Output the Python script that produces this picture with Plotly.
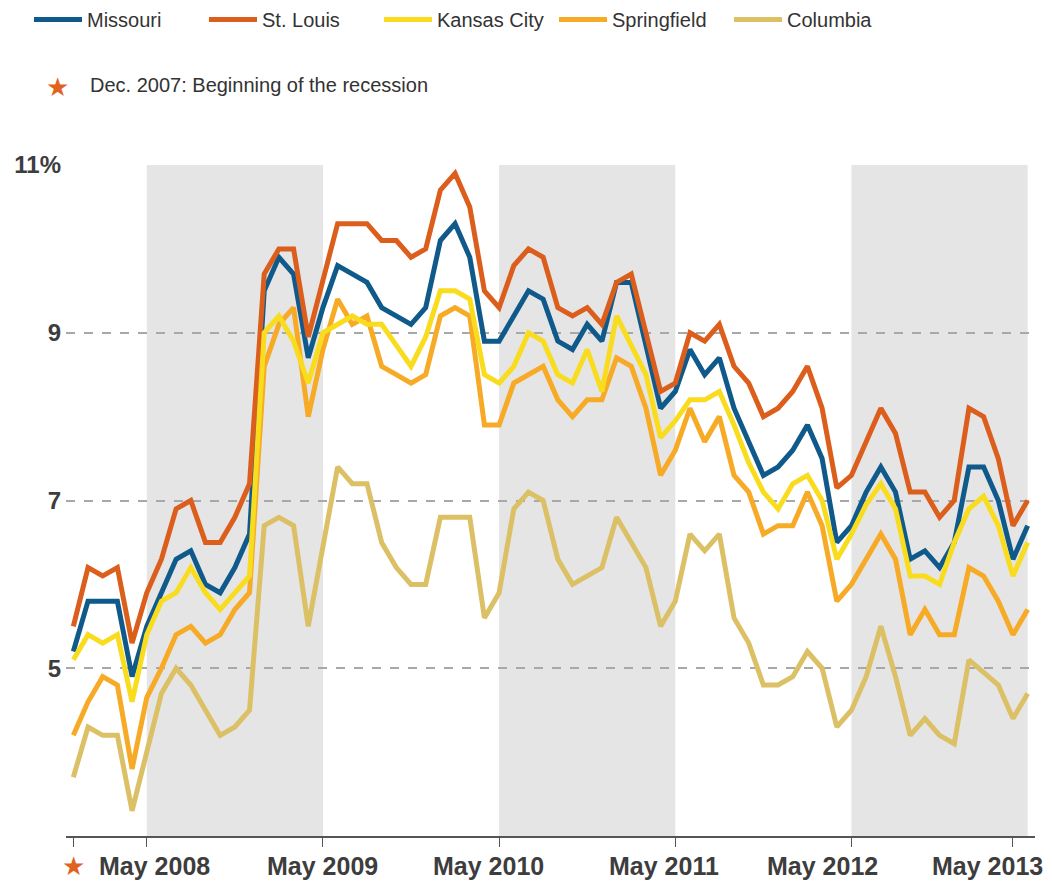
import plotly.graph_objects as go

# month index 0 = Dec 2007 ... 65 = May 2013
months = list(range(66))

missouri = [5.2, 5.8, 5.8, 5.8, 4.9, 5.5, 5.9, 6.3, 6.4, 6.0, 5.9, 6.2, 6.6, 9.5, 9.9, 9.7, 8.7, 9.3,
            9.8, 9.7, 9.6, 9.3, 9.2, 9.1, 9.3, 10.1, 10.3, 9.9, 8.9, 8.9, 9.2, 9.5, 9.4, 8.9, 8.8, 9.1,
            8.9, 9.6, 9.6, 8.85, 8.1, 8.3, 8.8, 8.5, 8.7, 8.1, 7.7, 7.3, 7.4, 7.6, 7.9, 7.5, 6.5, 6.7,
            7.1, 7.4, 7.1, 6.3, 6.4, 6.2, 6.5, 7.4, 7.4, 7.0, 6.3, 6.7]
st_louis = [5.5, 6.2, 6.1, 6.2, 5.3, 5.9, 6.3, 6.9, 7.0, 6.5, 6.5, 6.8, 7.2, 9.7, 10.0, 10.0, 8.95, 9.6,
            10.3, 10.3, 10.3, 10.1, 10.1, 9.9, 10.0, 10.7, 10.9, 10.5, 9.5, 9.3, 9.8, 10.0, 9.9, 9.3,
            9.2, 9.3, 9.1, 9.6, 9.7, 9.0, 8.3, 8.4, 9.0, 8.9, 9.1, 8.6, 8.4, 8.0, 8.1, 8.3, 8.6, 8.1,
            7.15, 7.3, 7.7, 8.1, 7.8, 7.1, 7.1, 6.8, 7.0, 8.1, 8.0, 7.5, 6.7, 7.0]
kansas_city = [5.1, 5.4, 5.3, 5.4, 4.6, 5.4, 5.8, 5.9, 6.2, 5.9, 5.7, 5.9, 6.1, 9.0, 9.2, 8.9, 8.4, 9.0,
               9.1, 9.2, 9.1, 9.1, 8.85, 8.6, 8.95, 9.5, 9.5, 9.4, 8.5, 8.4, 8.6, 9.0, 8.9, 8.5, 8.4,
               8.8, 8.3, 9.2, 8.85, 8.5, 7.75, 7.95, 8.2, 8.2, 8.3, 7.9, 7.45, 7.1, 6.9, 7.2, 7.3, 7.0,
               6.3, 6.6, 6.95, 7.2, 6.9, 6.1, 6.1, 6.0, 6.5, 6.9, 7.05, 6.7, 6.1, 6.5]
springfield = [4.2, 4.6, 4.9, 4.8, 3.8, 4.65, 5.0, 5.4, 5.5, 5.3, 5.4, 5.7, 5.9, 8.6, 9.1, 9.3, 8.0, 8.8,
               9.4, 9.1, 9.2, 8.6, 8.5, 8.4, 8.5, 9.2, 9.3, 9.2, 7.9, 7.9, 8.4, 8.5, 8.6, 8.2, 8.0, 8.2,
               8.2, 8.7, 8.6, 8.1, 7.3, 7.6, 8.1, 7.7, 8.0, 7.3, 7.1, 6.6, 6.7, 6.7, 7.1, 6.7, 5.8, 6.0,
               6.3, 6.6, 6.3, 5.4, 5.7, 5.4, 5.4, 6.2, 6.1, 5.8, 5.4, 5.7]
columbia = [3.7, 4.3, 4.2, 4.2, 3.3, 4.0, 4.7, 5.0, 4.8, 4.5, 4.2, 4.3, 4.5, 6.7, 6.8, 6.7, 5.5, 6.45,
            7.4, 7.2, 7.2, 6.5, 6.2, 6.0, 6.0, 6.8, 6.8, 6.8, 5.6, 5.9, 6.9, 7.1, 7.0, 6.3, 6.0, 6.1,
            6.2, 6.8, 6.5, 6.2, 5.5, 5.8, 6.6, 6.4, 6.6, 5.6, 5.3, 4.8, 4.8, 4.9, 5.2, 5.0, 4.3, 4.5,
            4.9, 5.5, 4.9, 4.2, 4.4, 4.2, 4.1, 5.1, 4.95, 4.8, 4.4, 4.7]

series_names = ["Missouri", "St. Louis", "Kansas City", "Springfield", "Columbia"]
series_values = [missouri, st_louis, kansas_city, springfield, columbia]
series_colors = ["#0f5a8a", "#dc5e1c", "#f9dc1e", "#f6aa25", "#dcc066"]
draw_order = ["Columbia", "Springfield", "Missouri", "St. Louis", "Kansas City"]

# shaded bands (month indices: May-May)
bands = [(5, 17), (29, 41), (53, 65)]
tick_marks = [0, 5, 17, 29, 41, 53, 64]
x_labels = ["May 2008", "May 2009", "May 2010", "May 2011", "May 2012", "May 2013"]
x_label_pos = [5.55, 16.95, 28.3, 40.2, 51.0, 62.25]
y_ticks = [5, 7, 9, 11]
y_ticktext = ["5", "7", "9", "11%"]

FONT = "Liberation Sans, Arial, Helvetica, sans-serif"

# page body has an 8px margin; figure sized to fit the window
OFF = 8
W, H = 1052 - OFF, 888 - OFF
L, R, T, B = 66 - OFF, 17, 165 - OFF, 52
pw, ph = W - L - R, H - T - B


def px_x(p):
    return (p - OFF - L) / pw


def px_y(p):
    return (H - B - (p - OFF)) / ph


fig = go.Figure()
for name in draw_order:
    i = series_names.index(name)
    fig.add_trace(go.Scatter(
        x=months, y=series_values[i], mode="lines", name=name,
        line=dict(color=series_colors[i], width=5),
        legendrank=i + 1, hoverinfo="skip",
    ))

for a, b in bands:
    fig.add_shape(type="rect", xref="x", yref="paper", x0=a, x1=b, y0=0, y1=1,
                  fillcolor="#e5e5e5", line=dict(width=0), layer="below")

annotations = []
for lab, xp in zip(x_labels, x_label_pos):
    annotations.append(dict(x=xp, y=px_y(866), xref="x", yref="paper", text="<b>" + lab + "</b>",
                            showarrow=False, font=dict(family=FONT, size=25, color="#3d3d3d"),
                            xanchor="center", yanchor="middle"))
# star under axis
annotations.append(dict(x=0, y=px_y(866), xref="x", yref="paper", text="★", showarrow=False,
                        font=dict(family="DejaVu Sans", size=26, color="#e0621f"),
                        xanchor="center", yanchor="middle"))
# star note at top
annotations.append(dict(x=px_x(57), y=px_y(87), xref="paper", yref="paper", text="★",
                        showarrow=False, font=dict(family="DejaVu Sans", size=26, color="#e0621f"),
                        xanchor="center", yanchor="middle"))
annotations.append(dict(x=px_x(88), y=px_y(85), xref="paper", yref="paper",
                        text="Dec. 2007: Beginning of the recession", showarrow=False,
                        font=dict(family=FONT, size=20, color="#333333"),
                        xanchor="left", yanchor="middle"))

fig.update_layout(
    width=W, height=H,
    margin=dict(l=L, r=R, t=T, b=B, autoexpand=False),
    paper_bgcolor="white", plot_bgcolor="white",
    font=dict(family=FONT, color="#333333"),
    showlegend=True,
    legend=dict(orientation="h", xref="paper", yref="paper",
                x=px_x(29), y=px_y(0), xanchor="left", yanchor="top",
                entrywidth=112, entrywidthmode="pixels", itemwidth=48,
                font=dict(family=FONT, size=20, color="#333333"),
                bgcolor="rgba(0,0,0,0)", traceorder="normal"),
    annotations=annotations,
    xaxis=dict(range=[-0.5, 65.5], showgrid=False, zeroline=False, automargin=False,
               showline=True, linecolor="#555555", linewidth=1.5,
               tickmode="array", tickvals=tick_marks, ticktext=[""] * len(tick_marks),
               ticks="outside", ticklen=9, tickcolor="#555555", tickwidth=1.2),
    yaxis=dict(range=[3.0, 11.0], tickmode="array", tickvals=y_ticks, automargin=False,
               ticktext=["<b>" + t + "</b>" for t in y_ticktext],
               tickfont=dict(family=FONT, size=24, color="#3d3d3d"),
               showgrid=True, gridcolor="#a8a8a8", griddash="dash", gridwidth=1.5,
               zeroline=False, showline=False, ticks="", ticklabelstandoff=4),
)

fig.write_html("out.html")
